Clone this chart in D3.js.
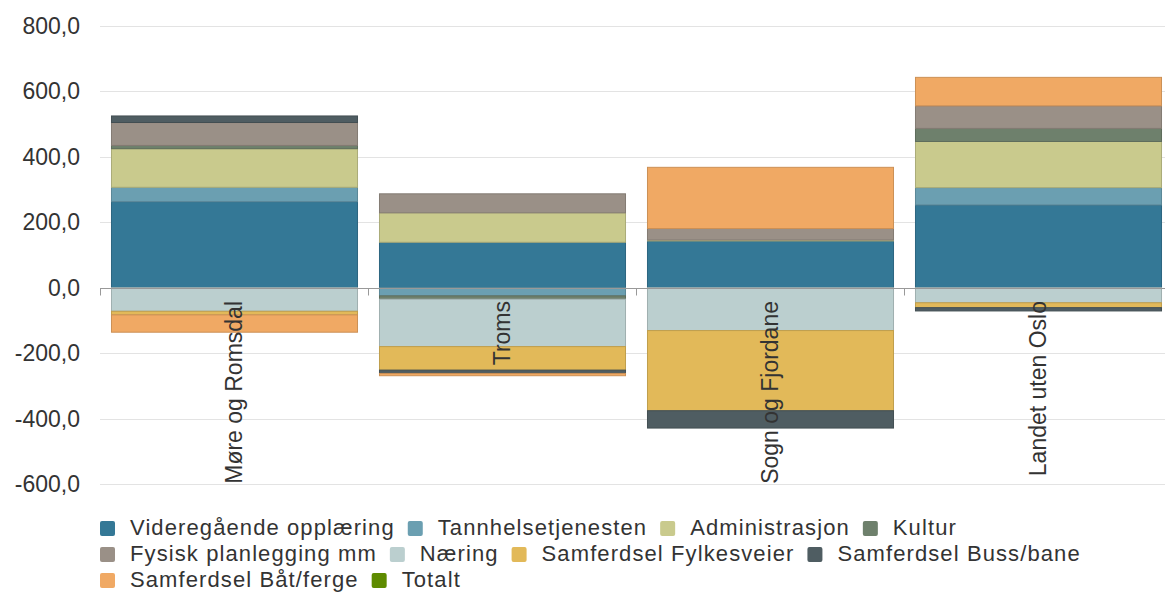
<!DOCTYPE html>
<html>
<head>
<meta charset="utf-8">
<script src="https://cdn.jsdelivr.net/npm/d3@7"></script>
<style>
  body { margin: 0; background: #fff; }
  text { font-family: "Liberation Sans", Arial, sans-serif; fill: #333; }
</style>
</head>
<body>
<div id="chart-area"></div>
<script>
// chart data
var regions = ["Møre og Romsdal", "Troms", "Sogn og Fjordane", "Landet uten Oslo"];
var seriesNames = ["Videregående opplæring", "Tannhelsetjenesten", "Administrasjon", "Kultur",
    "Fysisk planlegging mm", "Næring", "Samferdsel Fylkesveier", "Samferdsel Buss/bane",
    "Samferdsel Båt/ferge", "Totalt"];
var videregaende = [263, 139, 143, 253];
var tannhelse    = [44, -25, 0, 53];
var administrasjon = [118, 90, 3, 141];
var kultur       = [10, -10, 0, 40];
var fysisk       = [70, 58, 35, 69];
var naering      = [-72, -145, -131, -46];
var fylkesveier  = [-11, -72, -245, -15];
var bussbane     = [20, -10, -53, -10];
var batferge     = [-53, -7, 187, 87];
var totalt       = [null, null, null, null];
var yTicks = [-600, -400, -200, 0, 200, 400, 600, 800];
var colors = ["#347896", "#6b9fb1", "#c9ca8d", "#6e806c", "#9a9087", "#bbcfcf",
    "#e2b959", "#4f5d62", "#f0a964", "#5e8b00"];

var seriesValues = [videregaende, tannhelse, administrasjon, kultur, fysisk,
    naering, fylkesveier, bussbane, batferge];

var table = regions.map(function(r, i) {
    var row = { region: r };
    seriesValues.forEach(function(vals, s) { row[seriesNames[s]] = vals[i]; });
    return row;
});

var width = 1165, height = 592;
var svg = d3.select("#chart-area").append("svg")
    .attr("width", width)
    .attr("height", height);

var x = d3.scaleBand()
    .domain(regions)
    .range([100, 1172])
    .paddingInner(0.082)
    .paddingOuter(0.041);

var y = d3.scaleLinear()
    .domain([-600, 800])
    .range([484, 26]);

// grid + y labels
svg.append("g").selectAll("line")
    .data(yTicks)
    .enter().append("line")
    .attr("x1", 100).attr("x2", width)
    .attr("y1", d => Math.round(y(d)) + 0.5)
    .attr("y2", d => Math.round(y(d)) + 0.5)
    .attr("stroke", "#e3e3e3");

svg.append("g").selectAll("text")
    .data(yTicks)
    .enter().append("text")
    .attr("x", 80)
    .attr("y", d => y(d) + 8)
    .attr("text-anchor", "end")
    .attr("font-size", "23px")
    .text(d => d3.format(".1f")(d).replace(".", ",").replace("−", "-"));

// stacked bars
var stack = d3.stack()
    .keys(seriesNames.slice(0, seriesValues.length))
    .offset(d3.stackOffsetDiverging);
var layers = stack(table);

svg.append("g").selectAll("g")
    .data(layers)
    .enter().append("g")
    .attr("fill", (d, i) => colors[i])
    .attr("stroke", (d, i) => d3.color(colors[i]).darker(0.45))
    .selectAll("rect")
    .data(d => d.filter(p => p[1] - p[0] !== 0))
    .enter().append("rect")
    .attr("x", d => x(d.data.region) + 0.5)
    .attr("width", x.bandwidth())
    .attr("y", d => y(d[1]))
    .attr("height", d => y(d[0]) - y(d[1]));

// zero axis
var zero = Math.round(y(0)) + 0.5;
svg.append("line")
    .attr("x1", 100).attr("x2", width)
    .attr("y1", zero).attr("y2", zero)
    .attr("stroke", "#999");
var edges = regions.map(r => x(r) - x.step() * x.paddingInner() / 2);
edges.push(x(regions[3]) + x.bandwidth() + x.step() * x.paddingInner() / 2);
svg.append("g").selectAll("line")
    .data(edges)
    .enter().append("line")
    .attr("x1", d => Math.round(d) + 0.5).attr("x2", d => Math.round(d) + 0.5)
    .attr("y1", zero).attr("y2", zero + 7)
    .attr("stroke", "#999");

// category labels
svg.append("g").selectAll("text")
    .data(regions)
    .enter().append("text")
    .attr("transform", d => "translate(" + (x(d) + x.bandwidth() / 2 + 8) + ",301) rotate(-90)")
    .attr("text-anchor", "end")
    .attr("font-size", "23px")
    .text(d => d);

// legend
var legend = svg.append("g");
var lx = 100, ly = 521, rowH = 26, maxX = 1160;
seriesNames.forEach(function(name, i) {
    var item = legend.append("g");
    item.append("rect")
        .attr("width", 15).attr("height", 15)
        .attr("rx", 2)
        .attr("fill", colors[i]);
    var t = item.append("text")
        .attr("x", 30).attr("y", 14)
        .attr("font-size", "22px")
        .attr("letter-spacing", "1.1px")
        .text(name);
    var w = 30 + t.node().getComputedTextLength();
    if (lx + w > maxX) { lx = 100; ly += rowH; }
    item.attr("transform", "translate(" + lx + "," + ly + ")");
    lx += w + 13;
});
</script>
</body>
</html>
